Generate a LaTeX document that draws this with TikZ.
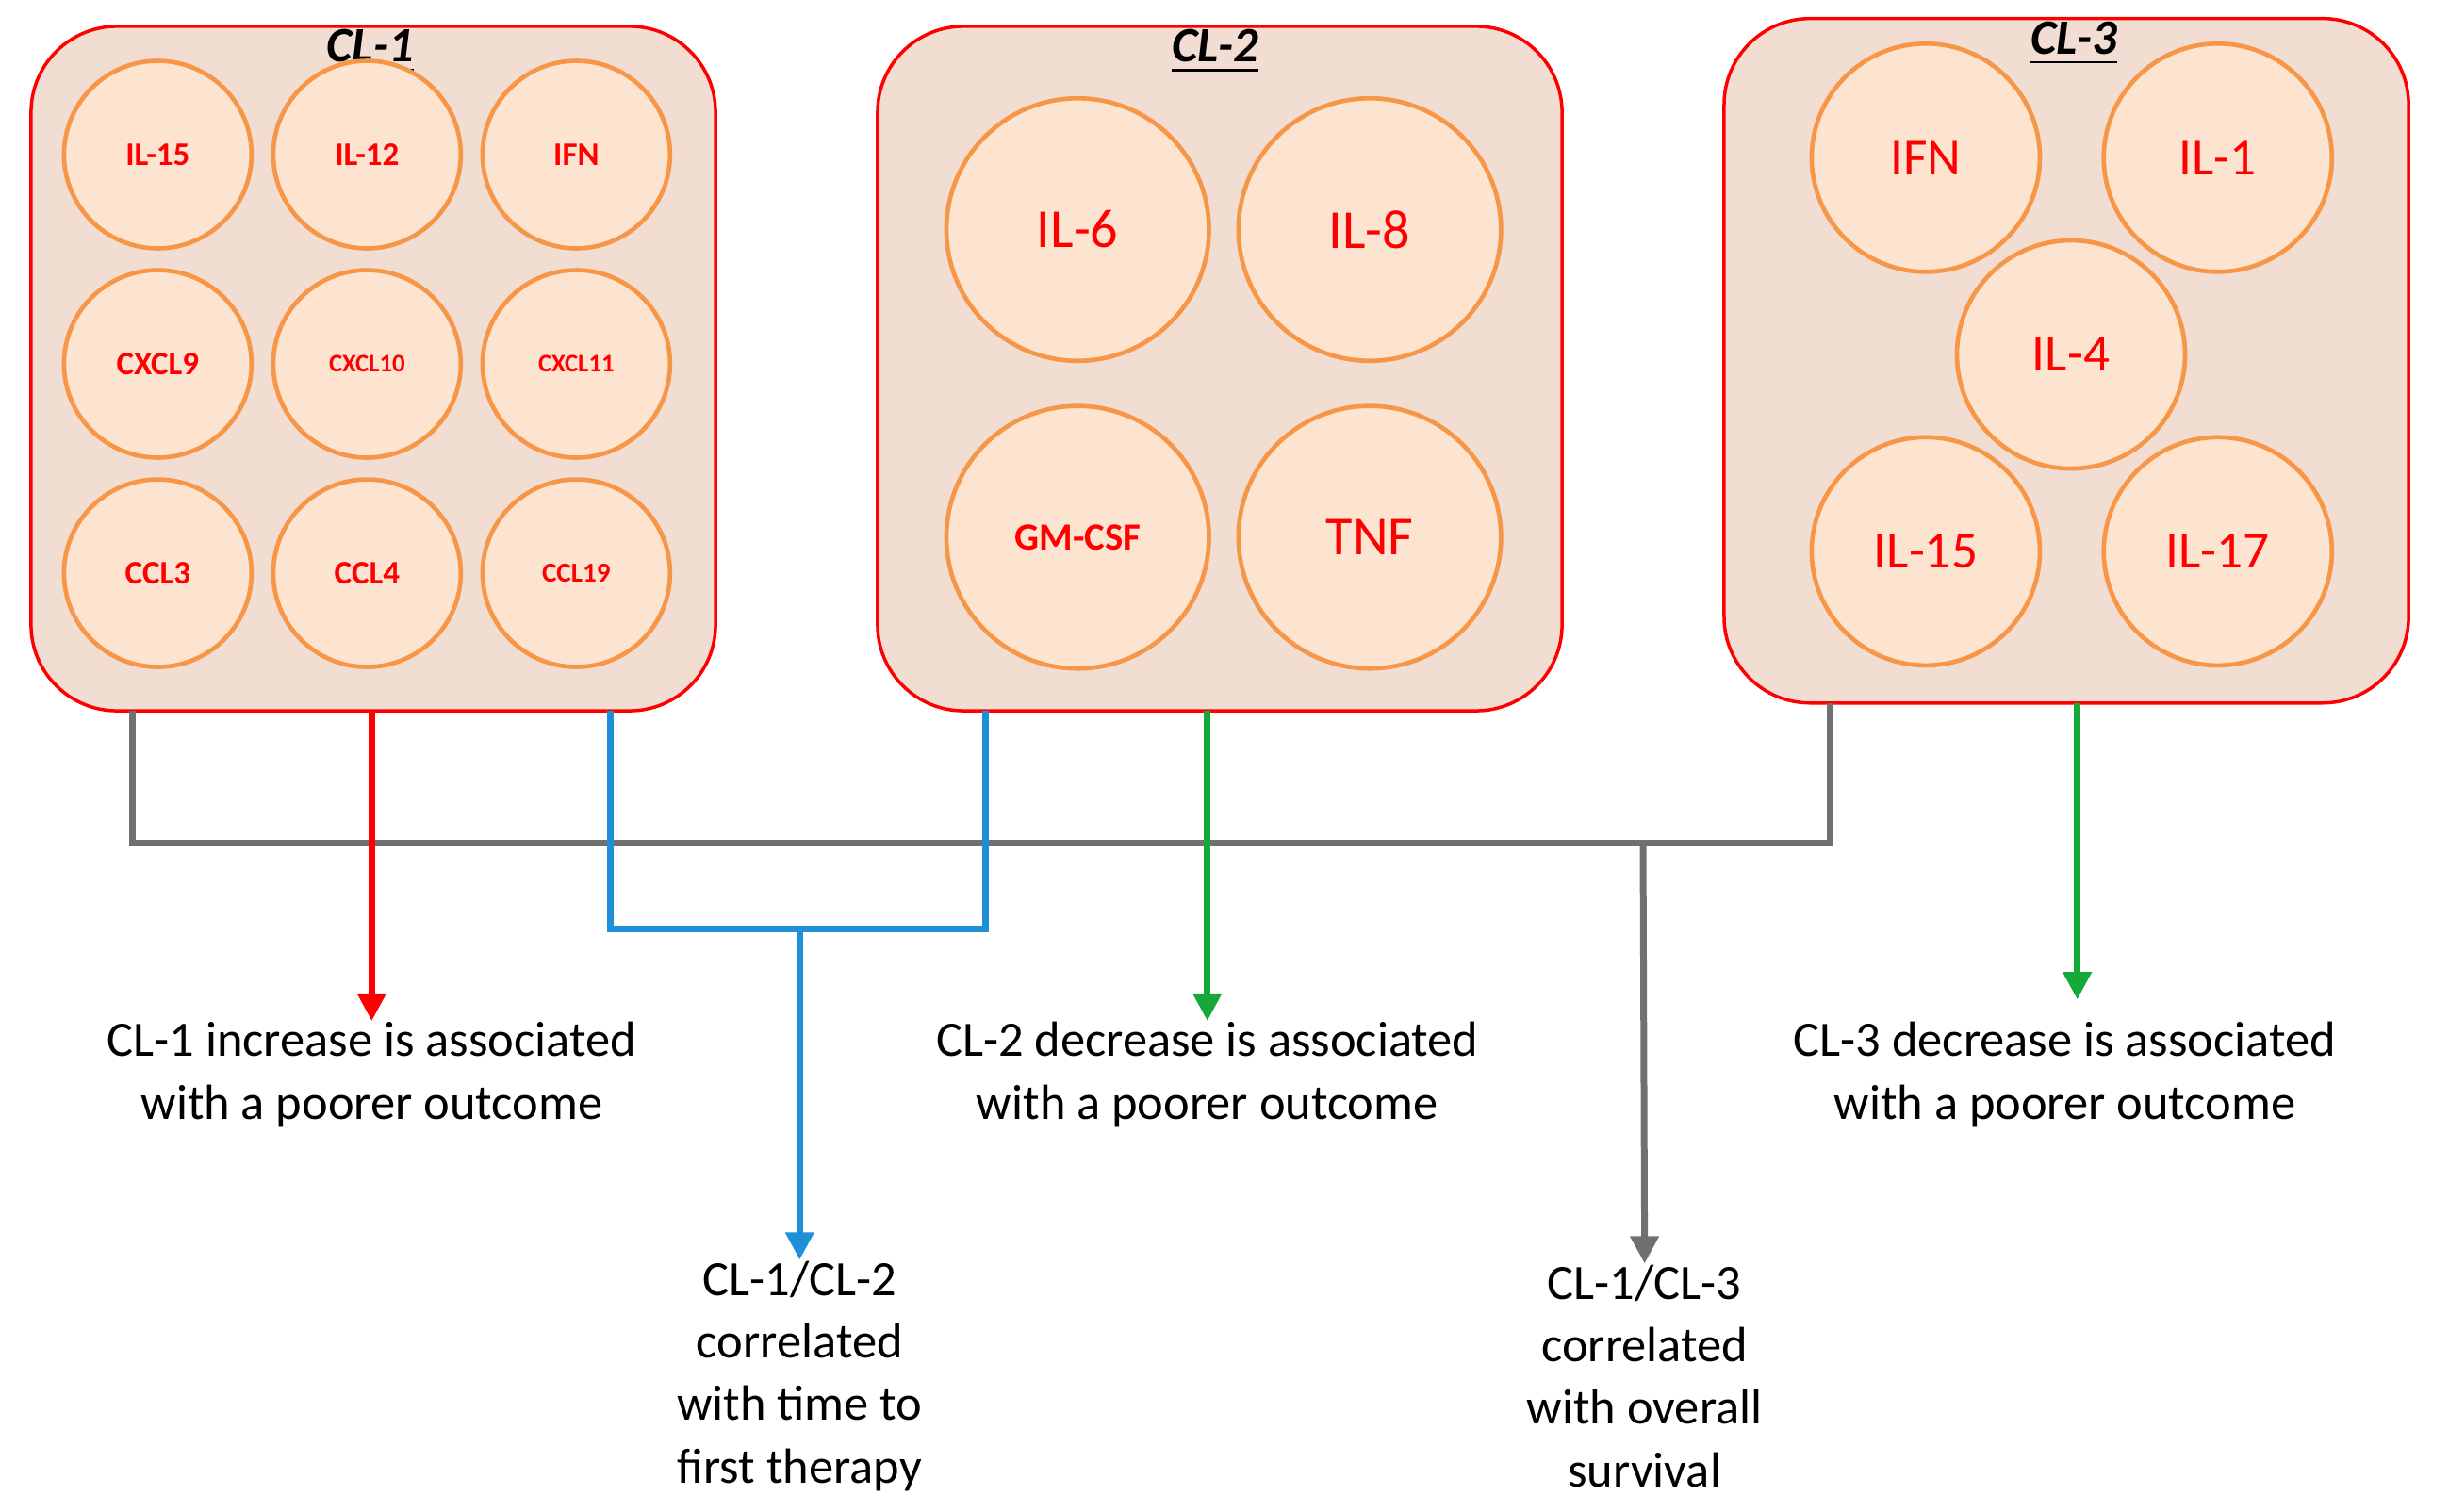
\documentclass[tikz,border=0pt]{standalone}
\usepackage{fontspec}
\setmainfont{Carlito}
\usetikzlibrary{arrows.meta}
\definecolor{boxfill}{HTML}{F2DDD3}
\definecolor{circfill}{HTML}{FDE4D1}
\definecolor{circline}{HTML}{F79646}
\definecolor{lblue}{HTML}{1E90D8}
\definecolor{lgreen}{HTML}{16A838}
\definecolor{lgray}{HTML}{707070}
\begin{document}
\begin{tikzpicture}[x=0.01cm,y=-0.01cm,
 box/.style={draw=red,fill=boxfill,line width=0.6pt,rounded corners=0.55cm,minimum width=4.38cm,minimum height=4.38cm},
 circ/.style={circle,draw=circline,fill=circfill,line width=0.8pt,text=red,font=\bfseries,inner sep=0pt},
 c1/.style={circ,minimum size=1.2cm,font=\bfseries\fontsize{6}{7}\selectfont},
 c2/.style={circ,minimum size=1.68cm,font=\fontsize{10}{12}\selectfont},
 c3/.style={circ,minimum size=1.46cm,font=\fontsize{9.5}{11}\selectfont},
 ttl/.style={font=\bfseries\itshape\fontsize{9}{10}\selectfont},
 con/.style={line width=1.2pt},
 arr/.style={con,-{Triangle[width=5pt,length=5pt]}},
 lab/.style={align=center,font=\fontsize{9}{11.4}\selectfont,inner sep=0pt}]
\useasboundingbox (0,0) rectangle (1568,968);
% boxes
\node[box] (b1) at (239,236) {};
\node[box] (b2) at (781,236) {};
\node[box] (b3) at (1323,231) {};
\node[ttl] (t1) at (237,33) {\underline{CL-1}};
\node[ttl] (t2) at (778,33) {\underline{CL-2}};
\node[ttl] (t3) at (1328,28) {\underline{CL-3}};
% CL-1 circles
\node[c1] (a1) at (101,99) {IL-15};
\node[c1] (a2) at (235,99) {IL-12};
\node[c1] (a3) at (369,99) {IFN};
\node[c1] (a4) at (101,233) {CXCL9};
\node[c1,font=\bfseries\fontsize{4.6}{5}\selectfont] (a5) at (235,233) {CXCL10};
\node[c1,font=\bfseries\fontsize{4.6}{5}\selectfont] (a6) at (369,233) {CXCL11};
\node[c1] (a7) at (101,367) {CCL3};
\node[c1] (a8) at (235,367) {CCL4};
\node[c1,font=\bfseries\fontsize{5}{6}\selectfont] (a9) at (369,367) {CCL19};
% CL-2 circles
\node[c2] (d1) at (690,147) {IL-6};
\node[c2] (d2) at (877,147) {IL-8};
\node[c2,font=\bfseries\fontsize{7}{8}\selectfont] (d3) at (690,344) {GM-CSF};
\node[c2] (d4) at (877,344) {TNF};
% CL-3 circles
\node[c3] (e1) at (1233,101) {IFN};
\node[c3] (e2) at (1420,101) {IL-1};
\node[c3] (e3) at (1326,227) {IL-4};
\node[c3] (e4) at (1233,353) {IL-15};
\node[c3] (e5) at (1420,353) {IL-17};
% labels
\node[lab] (l1) at (238,688) {CL-1 increase is associated\\with a poorer outcome};
\node[lab] (l2) at (773,688) {CL-2 decrease is associated\\with a poorer outcome};
\node[lab] (l3) at (1322,688) {CL-3 decrease is associated\\with a poorer outcome};
\node[lab] (l4) at (512,881) {CL-1/CL-2\\correlated\\with time to\\first therapy};
\node[lab] (l5) at (1053,881) {CL-1/CL-3\\correlated\\with overall\\survival};
% connector coordinates
\coordinate (g1) at (85,455);
\coordinate (g2) at (1172,450);
\coordinate (gm) at (1052,540);
\coordinate (bl1) at (391,455);
\coordinate (bl2) at (631,455);
\coordinate (bm) at (512,595);
% gray
\draw[con,lgray] (g1) |- (gm) -| (g2);
\draw[arr,lgray] (gm) -- (l5.north);
% blue
\draw[con,lblue] (bl1) |- (bm) -| (bl2);
\draw[arr,lblue] (bm) -- (l4.north);
% red & green
\draw[arr,red] (238,455) -- (l1.north);
\draw[arr,lgreen] (773,455) -- (l2.north);
\draw[arr,lgreen] (1330,450) -- (1330,640);
\end{tikzpicture}
\end{document}
